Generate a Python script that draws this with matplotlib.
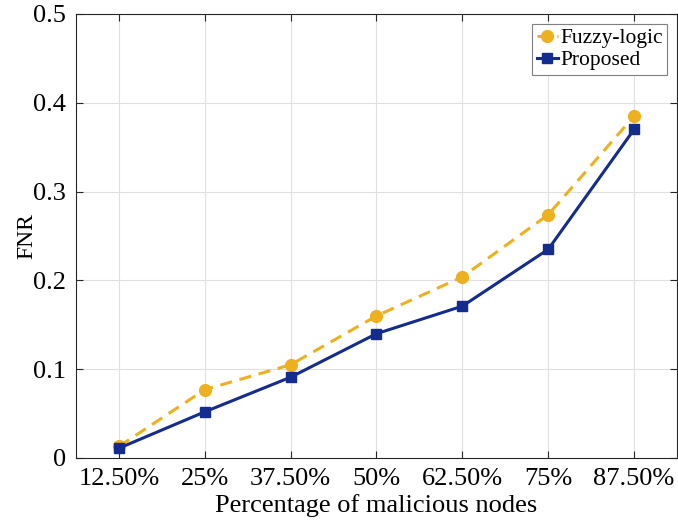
import numpy as np
import matplotlib.pyplot as plt

# -----------------------------
# DATA
# -----------------------------
categories = ["12.50%", "25%", "37.50%", "50%", "62.50%", "75%", "87.50%"]
fuzzy_logic = [0.013, 0.077, 0.105, 0.160, 0.204, 0.274, 0.385]
proposed = [0.011, 0.052, 0.091, 0.140, 0.171, 0.235, 0.370]

plt.rcParams['font.family'] = ['Liberation Serif', 'DejaVu Serif']
plt.rcParams['mathtext.fontset'] = 'stix'

x = np.arange(1, len(categories) + 1)

fig = plt.figure(figsize=(6.78, 5.26), dpi=100)
ax = fig.add_axes([76/678, 1 - 458/526, (677 - 76)/678, (458 - 14)/526])

ax.plot(x, fuzzy_logic, color='#EDB120', linestyle='--', dashes=(4, 2.5), linewidth=2.2,
        marker='o', markersize=8.5, label='Fuzzy-logic')
ax.plot(x, proposed, color='#142C8E', linestyle='-', linewidth=2.2,
        marker='s', markersize=7, label='Proposed')

ax.set_xlim(0.5, 7.5)
ax.set_ylim(0, 0.5)
ax.set_xticks(x)
ax.set_xticklabels(categories)
ax.set_yticks([0, 0.1, 0.2, 0.3, 0.4, 0.5])
ax.set_yticklabels(['0', '0.1', '0.2', '0.3', '0.4', '0.5'])
ax.tick_params(labelsize=19, direction='in', length=5, width=0.8, top=True, right=True, color='#262626', pad=7)
ax.grid(True, color='#e0e0e0', linewidth=0.8)
ax.set_axisbelow(True)
for s in ax.spines.values():
    s.set_color('#262626')
    s.set_linewidth(0.8)

ax.set_xlabel('Percentage of malicious nodes', fontsize=19, labelpad=3)
ax.set_ylabel('FNR', fontsize=17, labelpad=-3)

leg = ax.legend(loc='upper right', fontsize=15.5, frameon=True, fancybox=False,
                handlelength=1.0, handletextpad=0.1, borderpad=0.2, labelspacing=0.1,
                borderaxespad=0.45, framealpha=1)
leg.get_frame().set_edgecolor('#7f7f7f')
leg.get_frame().set_linewidth(0.8)

fig.savefig('out.png', dpi=100)
